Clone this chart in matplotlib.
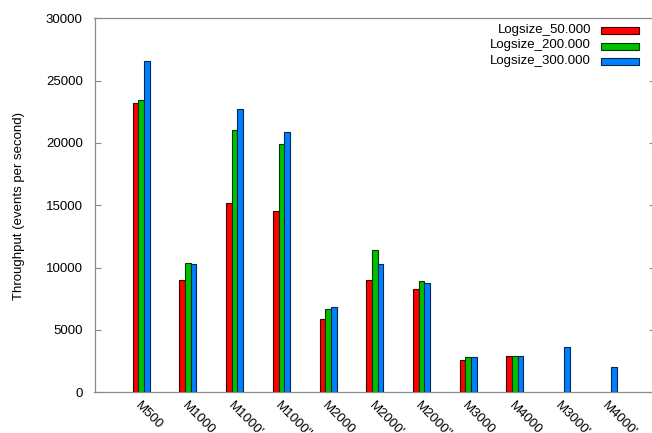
import numpy as np
import matplotlib
matplotlib.use("Agg")
import matplotlib.pyplot as plt
from matplotlib.patches import Rectangle
from matplotlib.transforms import ScaledTranslation

plt.rcParams["font.family"] = ["Liberation Sans", "DejaVu Sans"]

# Throughput per configuration for each log size
categories = ["M500", "M1000", "M1000'", "M1000''", "M2000", "M2000'",
              "M2000''", "M3000", "M4000", "M3000'", "M4000'"]
logsize_50 = [23200, 9000, 15150, 14550, 5850, 9000, 8250, 2600, 2900, np.nan, np.nan]
logsize_200 = [23450, 10350, 21050, 19950, 6700, 11450, 8950, 2800, 2900, np.nan, np.nan]
logsize_300 = [26600, 10300, 22750, 20850, 6850, 10300, 8750, 2800, 2950, 3600, 2050]

series_labels = ["Logsize_50.000", "Logsize_200.000", "Logsize_300.000"]
face_colors = ["#ff0000", "#00c000", "#0080ff"]
edge_colors = ["#3a0000", "#003a00", "#00284f"]
y_ticks = [0, 5000, 10000, 15000, 20000, 25000, 30000]

W, H = 652, 433
fig = plt.figure(figsize=(W / 100, H / 100), dpi=100)
ax = fig.add_axes([94.5 / W, (H - 392.3) / H, 560.5 / W, 374 / H])

x = np.arange(len(categories))
bw = 0.121
for i, (vals, fc, ec) in enumerate(zip([logsize_50, logsize_200, logsize_300],
                                       face_colors, edge_colors)):
    ax.bar(x + (i - 1) * bw, vals, width=bw, color=fc, edgecolor=ec,
           linewidth=0.8, zorder=3)

ax.set_xlim(-1, 11)
ax.set_ylim(0, 30000)
ax.set_yticks(y_ticks)
ax.set_yticklabels([str(v) for v in y_ticks])
ax.set_xticks(x)
ax.set_xticklabels(categories, rotation=-45, ha="left", va="top",
                   rotation_mode="anchor")
shift = ScaledTranslation(3 / 100, 0, fig.dpi_scale_trans)
for lbl in ax.get_xticklabels():
    lbl.set_transform(lbl.get_transform() + shift)

grey = "#8a8a8a"
for s in ax.spines.values():
    s.set_color(grey)
    s.set_linewidth(0.9)
ax.tick_params(axis="y", direction="in", length=4, width=0.8, color=grey,
               right=True, labelsize=9.5, pad=8.5, labelcolor="black")
ax.tick_params(axis="x", length=0, labelsize=9.5, pad=5, labelcolor="black")

ax.set_ylabel("Throughput (events per second)", fontsize=9.5)
ax.yaxis.set_label_coords(19 / W, (H - 206) / H, transform=fig.transFigure)
ax.yaxis.label.set_va("center")

# Key in the upper right corner: label text, then a colour swatch
for i, (lab, fc, ec) in enumerate(zip(series_labels, face_colors, edge_colors)):
    ty = 29.5 + i * 15.6
    fig.text(591 / W, (H - ty) / H, lab, ha="right", va="center", fontsize=9.5)
    by = 30.7 + i * 15.6
    fig.add_artist(Rectangle((601 / W, (H - by - 3.5) / H), 38 / W, 7 / H,
                             transform=fig.transFigure, facecolor=fc,
                             edgecolor=ec, linewidth=0.8))

fig.savefig("out.png", dpi=100)
